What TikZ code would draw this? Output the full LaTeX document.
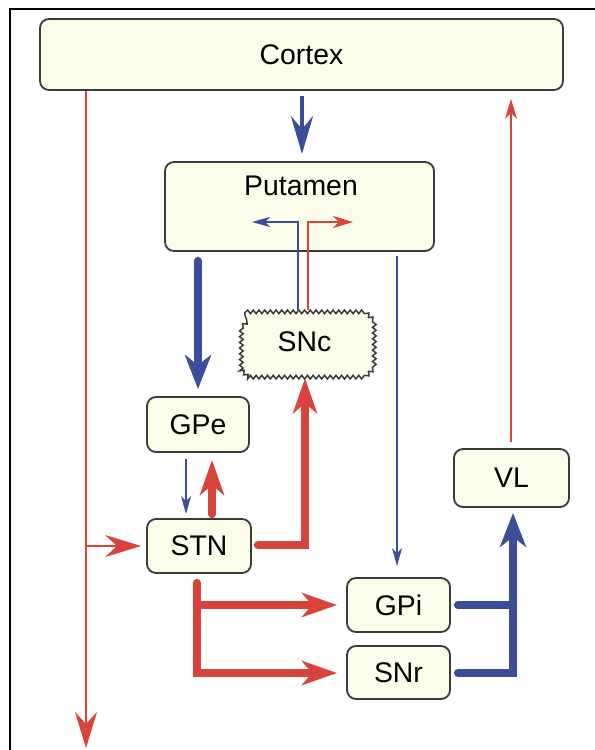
\documentclass[tikz,border=0pt]{standalone}
\usepackage{fontspec}
\setmainfont{Liberation Sans}
\usetikzlibrary{arrows.meta,calc,decorations.pathmorphing}
\definecolor{myred}{HTML}{D8433B}
\definecolor{myblue}{HTML}{3A4E9A}
\definecolor{boxfill}{HTML}{FCFCEA}
\definecolor{boxline}{HTML}{3A3A3A}
\tikzset{
  box/.style={draw=boxline, line width=1.8bp, fill=boxfill, rounded corners=9bp, inner sep=0pt,
    font=\fontsize{28.5}{32}\selectfont},
  redthin/.style={draw=myred, line width=2bp, -{Stealth[length=20bp,width=12bp,inset=6bp]}},
  redthinbig/.style={draw=myred, line width=2bp, -{Stealth[length=36bp,width=22bp,inset=12bp]}},
  bluethin/.style={draw=myblue, line width=1.8bp, -{Stealth[length=18bp,width=10bp,inset=5bp]}},
  bluemed/.style={draw=myblue, line width=4bp, -{Stealth[length=38bp,width=22bp,inset=13bp]}},
  bluethick/.style={draw=myblue, line width=8bp, line cap=round, -{Stealth[length=34bp,width=26bp,inset=10bp]}},
  bluethickplain/.style={draw=myblue, line width=8bp, line cap=round},
  redthick/.style={draw=myred, line width=8bp, line cap=round, -{Stealth[length=35bp,width=24bp,inset=10bp]}},
  label/.style={font=\fontsize{28.5}{32}\selectfont, inner sep=0pt},
  wavy/.style={draw=boxline, fill=boxfill, line width=1.5bp, decorate,
      decoration={snake, segment length=5.7bp, amplitude=1.8bp}}
}
\begin{document}
\begin{tikzpicture}[x=1bp,y=-1bp]
\useasboundingbox (0,0) rectangle (595,750);
\fill[white] (0,0) rectangle (595,750);
% frame
\draw[line width=2bp] (10,750) -- (10,9) -- (595,9);

% nodes
\node[box, minimum width=523bp, minimum height=71bp] (cortex) at (301.5,54.5) {Cortex};
\node[box, minimum width=269bp, minimum height=89bp] (putamen) at (299.5,206.5) {};
\node[label] (putlabel) at (301,186) {Putamen};
\node[minimum width=133bp, minimum height=60bp, inner sep=0pt] (snc) at (304.5,342) {};
\draw[wavy]
  ($(snc.north west)+(8,0)$) -- ($(snc.north east)+(-8,0)$) --
  ($(snc.north east)+(0,8)$) -- ($(snc.south east)+(0,-8)$) --
  ($(snc.south east)+(-8,0)$) -- ($(snc.south west)+(8,0)$) --
  ($(snc.south west)+(0,-8)$) -- ($(snc.north west)+(0,8)$) -- cycle;
\node[label] (snclabel) at (snc.center) {SNc};
\node[box, minimum width=102bp, minimum height=55bp] (gpe) at (198,424.5) {GPe};
\node[box, minimum width=104bp, minimum height=54bp] (stn) at (199,546) {STN};
\node[box, minimum width=103bp, minimum height=54bp] (gpi) at (398.5,605) {GPi};
\node[box, minimum width=103bp, minimum height=53bp] (snr) at (398.5,672.5) {SNr};
\node[box, minimum width=115bp, minimum height=58bp] (vl) at (511.5,478) {VL};

% connectors
\draw[bluemed] ($(cortex.south)+(0.5,5)$) -- ($(putamen.north)+(2.5,-7)$);
\draw[bluethin] ($(snc.north)+(-6.5,-2)$) |- ($(putamen.center)+(-47.5,15.5)$);
\draw[redthin] ($(snc.north)+(3.5,-2)$) |- ($(putamen.center)+(53.5,15.5)$);
\draw[bluethick] ($(putamen.south -| gpe.north)+(0,9)$) -- ($(gpe.north)+(0,-7)$);
\draw[bluethin] ($(gpe.south)+(-12,6)$) -- ($(stn.north)+(-13,-4)$);
\draw[redthick] ($(stn.north)+(13,-4)$) -- ($(gpe.south)+(14,7)$);
\draw[redthick, line join=miter] ($(stn.east)+(6,-1)$) -| ($(snc.south)+(0.5,6)$);
\coordinate (bottomend) at (86,748);
\draw[redthinbig] (cortex.south -| bottomend) -- (bottomend);
\draw[redthinbig] (bottomend |- stn.west) -- ($(stn.west)+(-5,0)$);
\draw[redthick, line join=miter] ($(stn.south)+(-2,9)$) |- ($(snr.west)+(-9,0.5)$);
\draw[redthick, line cap=butt] ($(stn.south |- gpi.west)+(-2,0)$) -- ($(gpi.west)+(-9,0)$);
\draw[bluethin] ($(putamen.south -| gpi.north)+(-1.5,4)$) -- ($(gpi.north)+(-1.5,-11)$);
\draw[bluethickplain] ($(gpi.east)+(7,0)$) -- ($(vl.south |- gpi.east)+(1.5,0)$);
\draw[bluethick, line join=miter] ($(snr.east)+(7,0.5)$) -| ($(vl.south)+(1.5,5)$);
\draw[redthin] ($(vl.north)+(-0.5,-6)$) -- ($(cortex.south -| vl.north)+(-0.5,8)$);
\end{tikzpicture}
\end{document}
